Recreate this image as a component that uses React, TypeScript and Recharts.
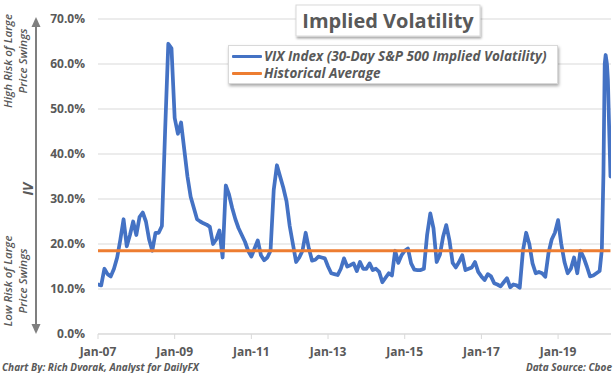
import React from 'react';
import { LineChart, Line, XAxis, YAxis, CartesianGrid, Legend } from 'recharts';

const startYear = 2007;

// Monthly readings of the VIX line (Jan 2007 .. Jan 2020), percent
const vixMonthly = [
  // 2007
  11, 10.8, 14.5, 13.3, 12.8, 14.5, 17, 21, 25.5, 19.5, 22, 25,
  // 2008
  22, 26, 27, 25, 21, 18.5, 22.5, 22.5, 24, 45, 64.5, 63.5,
  // 2009
  48, 44.5, 47, 41, 35, 30.5, 28, 25.5, 25, 24.6, 24.3, 23.8,
  // 2010
  20, 21, 23, 17, 33, 31, 28, 25.5, 23.5, 22, 20.5, 18.5,
  // 2011
  17.2, 19, 20.8, 17.5, 16.4, 17, 18.5, 32, 37.5, 35, 32.5, 29.5,
  // 2012
  24, 20, 16, 17, 18.5, 22.5, 19, 16.3, 16.5, 17.2, 17, 16.8,
  // 2013
  15, 13.5, 13.3, 13.1, 14.5, 16.8, 15, 15.3, 15.7, 14, 16, 14.5,
  // 2014
  14.5, 15.7, 14.2, 14.5, 13.8, 11.5, 12.5, 13.5, 13, 18.5, 15.8, 17.5,
  // 2015
  18.5, 19, 15.7, 14.3, 14.2, 14.2, 14.5, 22, 26.8, 23.5, 16, 17.6,
  // 2016
  21.6, 24.2, 20.8, 15.8, 14.8, 16, 17.5, 14.2, 14.5, 14.8, 16, 13.8,
  // 2017
  12.8, 12, 13.3, 12.8, 11.3, 11, 10.6, 11.5, 12.4, 10.4, 11, 10.8,
  // 2018
  10.3, 18.5, 22.5, 20, 15.7, 13.5, 13.8, 13.5, 12.7, 18, 21, 22.5,
  // 2019
  25.3, 20, 16, 13.5, 14.5, 17, 13.5, 18.5, 17, 15, 12.8, 13,
  // 2020
  13.5,
];

// Finer readings for the 2020 spike
const tailDates = ['2020-02-01', '2020-02-22', '2020-03-07', '2020-03-19', '2020-03-28', '2020-04-10', '2020-04-19', '2020-05-01', '2020-05-13'];
const tailValues = [14, 18.7, 35.7, 60, 62, 60, 56.4, 45.3, 35];

const historicalAverage = 18.5;

const yTicks = [0, 10, 20, 30, 40, 50, 60, 70];
const xTicks = [2007, 2009, 2011, 2013, 2015, 2017, 2019];
const xTickLabels = ['Jan-07', 'Jan-09', 'Jan-11', 'Jan-13', 'Jan-15', 'Jan-17', 'Jan-19'];

const seriesNames = ['VIX Index (30-Day S&P 500 Implied Volatility)', 'Historical Average'];
const titleText = 'Implied Volatility';

function toYear(d: string): number {
  const [y, m, dd] = d.split('-').map(Number);
  return y + (m - 1) / 12 + ((dd || 1) - 1) / 365;
}

const monthlyDates = vixMonthly.map(
  (_, i) => `${startYear + Math.floor(i / 12)}-${String((i % 12) + 1).padStart(2, '0')}-01`
);
const dates = [...monthlyDates, ...tailDates];
const values = [...vixMonthly, ...tailValues];
const data = dates.map((d, i) => ({ t: toYear(d), vix: values[i], avg: historicalAverage }));

const FONT = '"Open Sans", "DejaVu Sans", sans-serif';
const GRAY = '#595959';

const renderLegend = (props: any) => {
  const payload = [...(props.payload || [])].sort(
    (a: any, b: any) => seriesNames.indexOf(a.value) - seriesNames.indexOf(b.value)
  );
  return (
    <div
      style={{
        width: 330,
        height: 39,
        boxSizing: 'border-box',
        background: '#fff',
        border: '1px solid #d9d9d9',
        boxShadow: '1px 2px 3px rgba(0,0,0,0.35)',
        paddingTop: 2,
        paddingLeft: 3,
      }}
    >
      {payload.map((p: any, i: number) => (
        <div key={i} style={{ display: 'flex', alignItems: 'center', height: 17 }}>
          <div style={{ width: 30, height: 3, background: p.color, borderRadius: 1 }} />
          <span
            style={{
              marginLeft: 2,
              fontFamily: FONT,
              fontWeight: 700,
              fontStyle: 'italic',
              fontSize: 13.5,
              color: GRAY,
              lineHeight: '17px',
              whiteSpace: 'nowrap',
            }}
          >
            {p.value}
          </span>
        </div>
      ))}
    </div>
  );
};

export default function App() {
  return (
    <div style={{ position: 'absolute', left: 0, top: 0, width: 615, height: 373, background: '#fff', overflow: 'hidden' }}>
      <LineChart width={615} height={373} data={data} margin={{ top: 19, right: 4, bottom: 0, left: 0 }}>
        <CartesianGrid horizontal vertical={false} stroke="#d9d9d9" strokeWidth={1} />
        <XAxis
          dataKey="t"
          type="number"
          domain={[2007, 2020.38]}
          ticks={xTicks}
          tickFormatter={(v: number) => xTickLabels[xTicks.indexOf(v)] ?? ''}
          height={39}
          axisLine={{ stroke: '#d9d9d9' }}
          tickLine={{ stroke: '#d9d9d9' }}
          tickSize={5}
          tickMargin={8}
          tick={{ fontFamily: FONT, fontWeight: 700, fontSize: 12, fill: GRAY }}
          allowDataOverflow
        />
        <YAxis
          type="number"
          domain={[0, 70]}
          ticks={yTicks}
          width={98}
          axisLine={false}
          tickLine={false}
          tickSize={6}
          tickMargin={7}
          tickFormatter={(v: number) => `${v.toFixed(1)}%`}
          tick={{ fontFamily: FONT, fontWeight: 700, fontSize: 12, fill: GRAY }}
        />
        <Legend
          layout="horizontal"
          verticalAlign="middle"
          align="center"
          content={renderLegend}
          wrapperStyle={{ position: 'absolute', left: 228, top: 45, width: 330, height: 39 }}
        />
        <Line
          name={seriesNames[0]}
          type="linear"
          dataKey="vix"
          stroke="#4472C4"
          strokeWidth={3.75}
          strokeLinejoin="round"
          strokeLinecap="round"
          dot={false}
          activeDot={false}
          isAnimationActive={false}
        />
        <Line
          name={seriesNames[1]}
          type="linear"
          dataKey="avg"
          stroke="#ED7D31"
          strokeWidth={3}
          dot={false}
          activeDot={false}
          isAnimationActive={false}
        />
      </LineChart>
      <svg
        width={615}
        height={373}
        style={{ position: 'absolute', left: 0, top: 0, pointerEvents: 'none' }}
      >
        <defs>
          <filter id="shadow" x="-10%" y="-20%" width="120%" height="150%">
            <feDropShadow dx="1" dy="2" stdDeviation="1.2" floodColor="#000" floodOpacity="0.35" />
          </filter>
        </defs>
        {/* Title box */}
        <rect x={296} y={5} width={184} height={31} fill="#fff" stroke="#d9d9d9" filter="url(#shadow)" />
        <text x={388} y={28} textAnchor="middle" fontFamily={FONT} fontWeight={700} fontSize={20} fill={GRAY}>
          {titleText}
        </text>

        {/* Double-headed arrow */}
        <line x1={36} y1={25} x2={36} y2={326} stroke="#7f7f7f" strokeWidth={2} />
        <polygon points="36,17 31.5,27 40.5,27" fill="#7f7f7f" />
        <polygon points="36,334 31.5,324 40.5,324" fill="#7f7f7f" />

        {/* IV label */}
        <text
          x={27.5}
          y={189}
          transform="rotate(-90 27.5 189)"
          textAnchor="middle"
          dominantBaseline="central"
          fontFamily={FONT}
          fontWeight={700}
          fontStyle="italic"
          fontSize={14}
          fill={GRAY}
        >
          IV
        </text>

        {/* High risk annotation */}
        <text x={7} y={61} transform="rotate(-90 7 61)" textAnchor="middle" dominantBaseline="central"
          fontFamily={FONT} fontWeight={600} fontStyle="italic" fontSize={11.5} fill={GRAY}>
          High Risk of Large
        </text>
        <text x={22} y={61} transform="rotate(-90 22 61)" textAnchor="middle" dominantBaseline="central"
          fontFamily={FONT} fontWeight={600} fontStyle="italic" fontSize={11.5} fill={GRAY}>
          Price Swings
        </text>

        {/* Low risk annotation */}
        <text x={7} y={281} transform="rotate(-90 7 281)" textAnchor="middle" dominantBaseline="central"
          fontFamily={FONT} fontWeight={600} fontStyle="italic" fontSize={11.5} fill={GRAY}>
          Low Risk of Large
        </text>
        <text x={22} y={281} transform="rotate(-90 22 281)" textAnchor="middle" dominantBaseline="central"
          fontFamily={FONT} fontWeight={600} fontStyle="italic" fontSize={11.5} fill={GRAY}>
          Price Swings
        </text>

        {/* Footer */}
        <text x={2} y={370.5} fontFamily={FONT} fontWeight={700} fontStyle="italic" fontSize={10} fill={GRAY}>
          Chart By: Rich Dvorak, Analyst for DailyFX
        </text>
        <text x={612} y={370.5} textAnchor="end" fontFamily={FONT} fontWeight={700} fontStyle="italic" fontSize={10} fill={GRAY}>
          Data Source: Cboe
        </text>
      </svg>
    </div>
  );
}
